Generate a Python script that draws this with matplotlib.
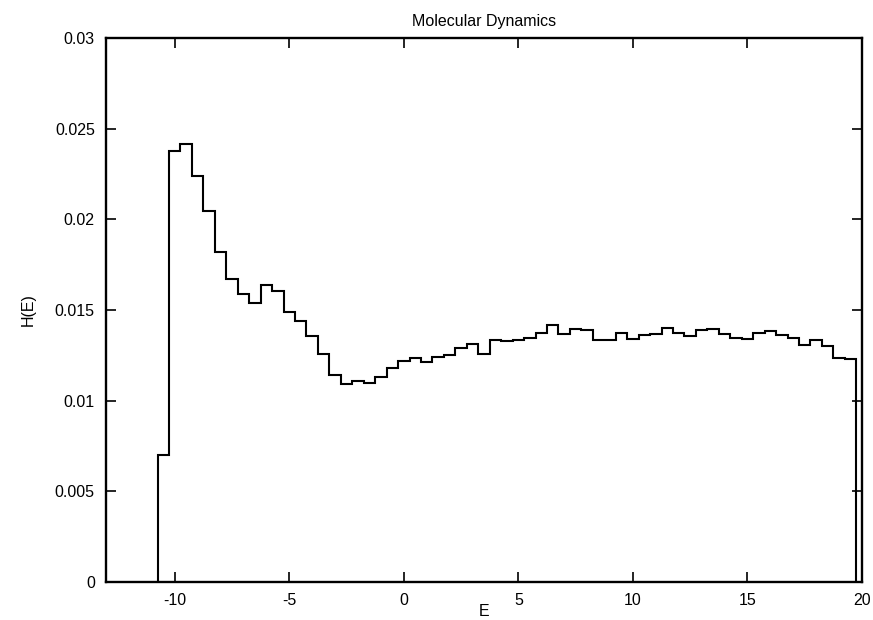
"""
Molecular Dynamics energy histogram H(E), gnuplot-style step plot.
"""

import numpy as np
import matplotlib
matplotlib.use("Agg")
import matplotlib.pyplot as plt
from matplotlib.ticker import FuncFormatter

plt.rcParams["font.family"] = ["Liberation Sans", "DejaVu Sans"]
plt.rcParams["axes.unicode_minus"] = False

# ============================================================
# data
# ============================================================
bin_start = -10.75
bin_width = 0.5
h_values = [
    0.00700, 0.02375, 0.02413, 0.02239, 0.02044, 0.01820, 0.01671, 0.01588,
    0.01541, 0.01638, 0.01605, 0.01489, 0.01438, 0.01357, 0.01259, 0.01140,
    0.01092, 0.01107, 0.01097, 0.01131, 0.01182, 0.01221, 0.01237, 0.01215,
    0.01243, 0.01252, 0.01289, 0.01315, 0.01257, 0.01335, 0.01329, 0.01333,
    0.01346, 0.01373, 0.01417, 0.01368, 0.01397, 0.01390, 0.01333, 0.01333,
    0.01374, 0.01340, 0.01364, 0.01370, 0.01401, 0.01373, 0.01359, 0.01388,
    0.01395, 0.01368, 0.01346, 0.01338, 0.01372, 0.01384, 0.01362, 0.01346,
    0.01305, 0.01335, 0.01301, 0.01237, 0.01230,
]
x_ticks = [-10, -5, 0, 5, 10, 15, 20]
y_ticks = [0, 0.005, 0.01, 0.015, 0.02, 0.025, 0.03]

edges = bin_start + bin_width * np.arange(len(h_values) + 1)

# ============================================================
# plot
# ============================================================
fig = plt.figure(figsize=(8.73, 6.2), dpi=100)
ax = fig.add_axes([0.1214, 0.0613, 0.866, 0.8774])

ax.stairs(h_values, edges, baseline=0, color="black", linewidth=1.5)

ax.set_xlim(-13, 20)
ax.set_ylim(0, 0.03)
ax.set_xticks(x_ticks)
ax.set_yticks(y_ticks)
ax.yaxis.set_major_formatter(FuncFormatter(lambda v, _: f"{v:g}"))

ax.tick_params(direction="in", top=True, right=True, length=7, width=1.2,
               labelsize=11.5, pad=8)
for s in ax.spines.values():
    s.set_linewidth(1.7)

ax.set_title("Molecular Dynamics", fontsize=11.5, pad=9)
# E sits tight under the tick labels, right at the bottom edge
ax.set_xlabel("E", fontsize=11.5, labelpad=-3)
ax.set_ylabel("H(E)", fontsize=11.5, labelpad=14)

fig.savefig("out.png", dpi=100)
